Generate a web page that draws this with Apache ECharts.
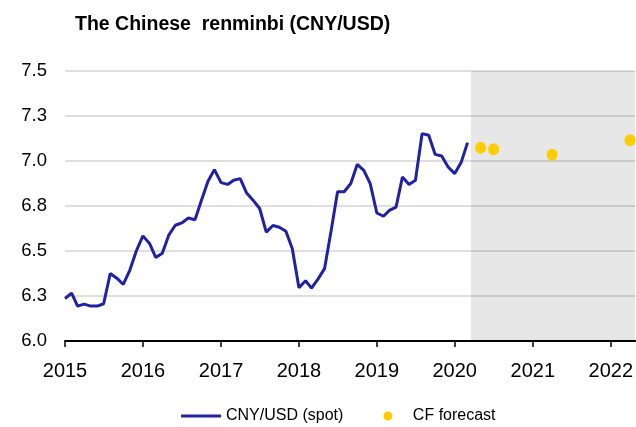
<!DOCTYPE html>
<html>
<head>
<meta charset="utf-8">
<script src="https://cdn.jsdelivr.net/npm/echarts@6/dist/echarts.min.js"></script>
<style>
    html, body { margin: 0; padding: 0; background: #fff; }
    #chart { width: 636px; height: 427px; }
</style>
</head>
<body>
<div id="chart"></div>
<script>
    // monthly spot rate, first of each month
    const spotMonths = [
        '2015-01-01', '2015-02-01', '2015-03-01', '2015-04-01', '2015-05-01', '2015-06-01',
        '2015-07-01', '2015-08-01', '2015-09-01', '2015-10-01', '2015-11-01', '2015-12-01',
        '2016-01-01', '2016-02-01', '2016-03-01', '2016-04-01', '2016-05-01', '2016-06-01',
        '2016-07-01', '2016-08-01', '2016-09-01', '2016-10-01', '2016-11-01', '2016-12-01',
        '2017-01-01', '2017-02-01', '2017-03-01', '2017-04-01', '2017-05-01', '2017-06-01',
        '2017-07-01', '2017-08-01', '2017-09-01', '2017-10-01', '2017-11-01', '2017-12-01',
        '2018-01-01', '2018-02-01', '2018-03-01', '2018-04-01', '2018-05-01', '2018-06-01',
        '2018-07-01', '2018-08-01', '2018-09-01', '2018-10-01', '2018-11-01', '2018-12-01',
        '2019-01-01', '2019-02-01', '2019-03-01', '2019-04-01', '2019-05-01', '2019-06-01',
        '2019-07-01', '2019-08-01', '2019-09-01', '2019-10-01', '2019-11-01', '2019-12-01',
        '2020-01-01', '2020-02-01', '2020-03-01'
    ];
    const spotValues = [
        6.236, 6.266, 6.194, 6.205, 6.194, 6.194, 6.207, 6.375, 6.349, 6.314, 6.394, 6.500,
        6.584, 6.542, 6.464, 6.488, 6.588, 6.643, 6.656, 6.683, 6.674, 6.781, 6.887, 6.952,
        6.880, 6.870, 6.893, 6.902, 6.822, 6.781, 6.736, 6.605, 6.642, 6.632, 6.610, 6.512,
        6.296, 6.335, 6.294, 6.345, 6.402, 6.614, 6.829, 6.829, 6.875, 6.981, 6.948, 6.874,
        6.711, 6.693, 6.726, 6.744, 6.911, 6.870, 6.893, 7.152, 7.143, 7.037, 7.028, 6.967,
        6.930, 6.995, 7.102
    ];
    const forecastDates = ['2020-05-01', '2020-07-01', '2021-04-01', '2022-04-01'];
    const forecastValues = [7.074, 7.065, 7.035, 7.115];
    const forecastStart = '2020-03-17';
    const forecastEnd = '2023-01-01';
    const axisEnd = '2022-04-25';

    const font = '"Liberation Sans", Arial, sans-serif';
    // plain line as legend icon (no dot), padded to keep the 40x9 box
    const lineIcon = 'path://M0,0L40,0L40,0.01L0,0.01ZM0,3L40,3L40,6L0,6ZM0,8.99L40,8.99L40,9L0,9Z';

    const myChart = echarts.init(document.getElementById('chart'));
    const option = {
        animation: false,
        title: {
            text: 'The Chinese  renminbi (CNY/USD)',
            left: 70,
            top: 10,
            textStyle: { fontFamily: font, fontSize: 19.5, fontWeight: 'bold', color: '#000' }
        },
        legend: {
            left: 176,
            top: 403,
            itemGap: 40,
            itemWidth: 40,
            itemHeight: 9,
            textStyle: { fontFamily: font, fontSize: 16, color: '#000' },
            data: [
                { name: 'CNY/USD (spot)', icon: lineIcon, itemStyle: { color: '#2021a3' } },
                { name: 'CF forecast', icon: 'circle' }
            ]
        },
        grid: { left: 65, right: -4, top: 71, bottom: 86 },
        xAxis: {
            type: 'time',
            min: '2015-01-01',
            max: axisEnd,
            minInterval: 365 * 24 * 3600 * 1000,
            maxInterval: 366 * 24 * 3600 * 1000,
            axisLine: { lineStyle: { color: '#000', width: 2 } },
            axisTick: { show: true, length: 6, lineStyle: { color: '#000', width: 1.5 } },
            axisLabel: {
                formatter: '{yyyy}',
                margin: 20,
                fontFamily: font,
                fontSize: 20,
                color: '#000'
            },
            splitLine: { show: false }
        },
        yAxis: {
            type: 'value',
            min: 6,
            max: 7.5,
            interval: 0.25,
            axisLine: { show: false },
            axisTick: { show: false },
            axisLabel: {
                formatter: (v) => v.toFixed(1),
                margin: 18,
                fontFamily: font,
                fontSize: 18.5,
                color: '#000'
            },
            splitLine: { lineStyle: { color: '#d4d4d4', width: 1.5 } }
        },
        series: [{
            name: 'CNY/USD (spot)',
            type: 'line',
            symbol: 'none',
            data: spotMonths.map((d, i) => [d, spotValues[i]]),
            lineStyle: { color: '#2021a3', width: 3 },
            itemStyle: { color: '#2021a3' },
            markArea: {
                silent: true,
                itemStyle: { color: 'rgba(0,0,0,0.095)' },
                data: [[{ xAxis: forecastStart }, { xAxis: forecastEnd }]]
            }
        }, {
            name: 'CF forecast',
            type: 'scatter',
            symbol: 'circle',
            symbolSize: [11, 12],
            data: forecastDates.map((d, i) => [d, forecastValues[i]]),
            itemStyle: { color: '#ffcc00', opacity: 1 }
        }]
    };
    myChart.setOption(option);
</script>
</body>
</html>
